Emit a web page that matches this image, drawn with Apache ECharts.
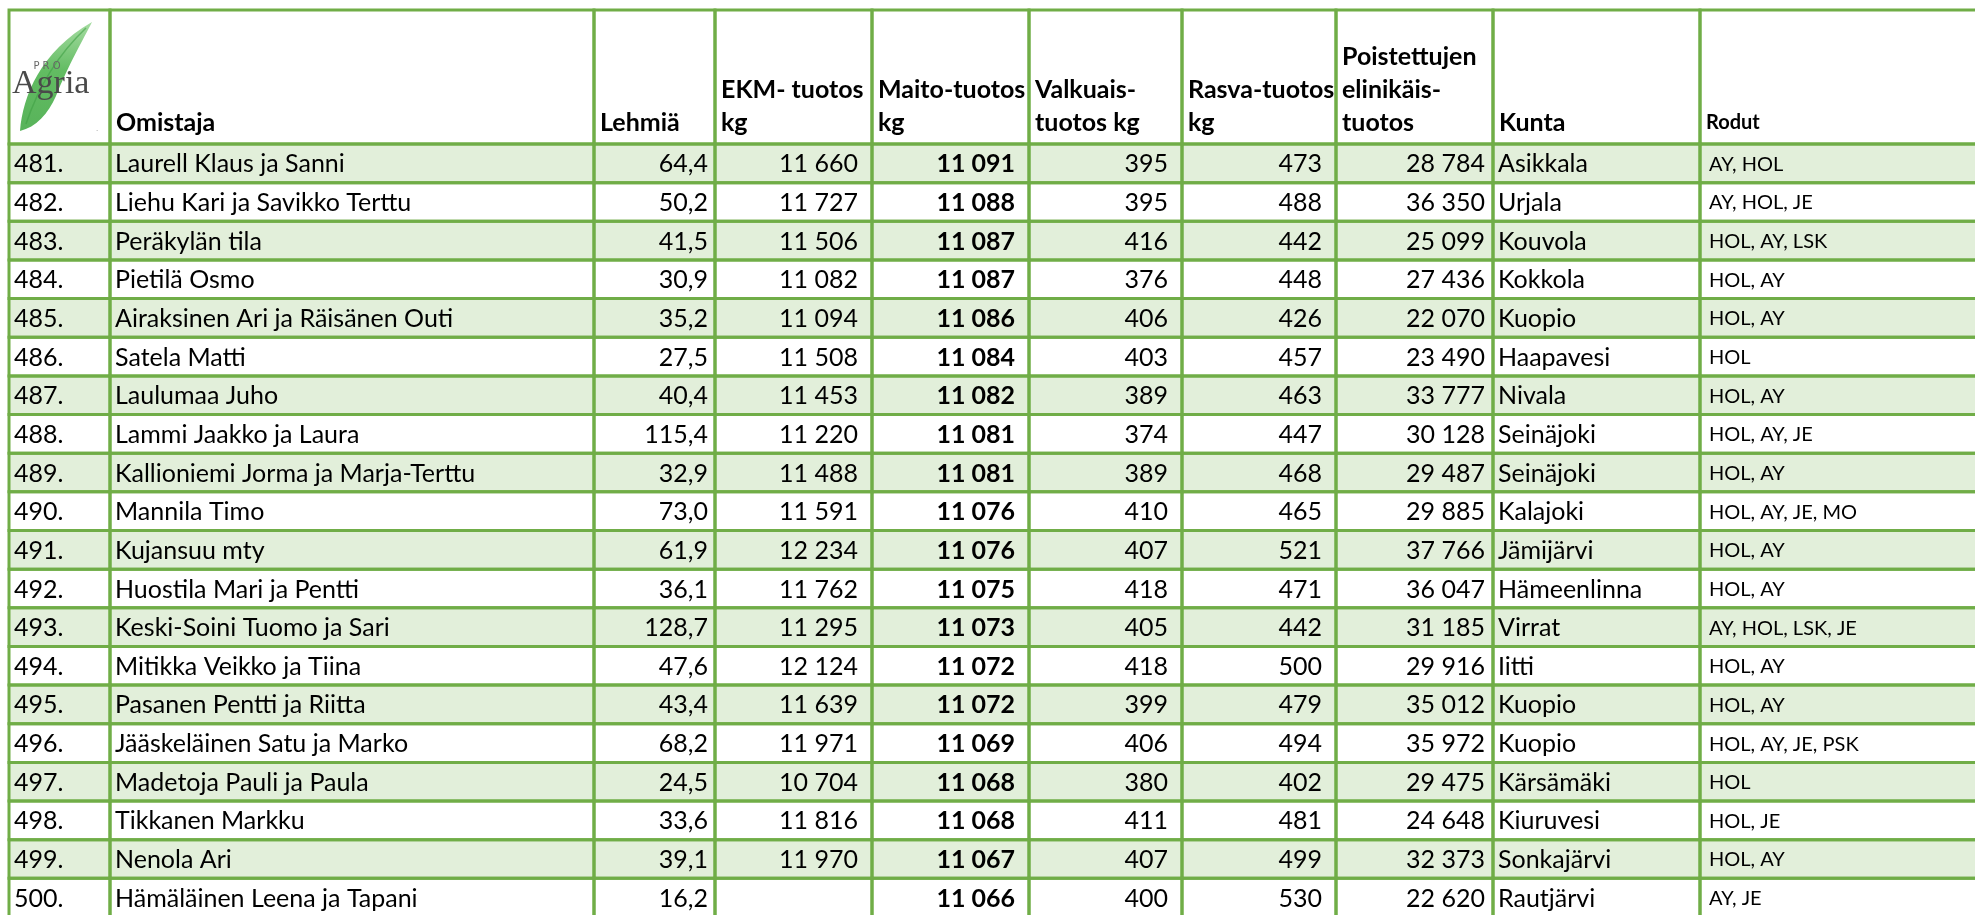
<!DOCTYPE html>
<html><head><meta charset="utf-8">
<script src="https://cdn.jsdelivr.net/npm/echarts@6/dist/echarts.min.js"></script>
<style>html,body{margin:0;padding:0;background:#fff}#c{width:1975px;height:915px}</style>
</head><body><div id="c"></div>
<script>
// ---------- data ----------
const headers = ['', 'Omistaja', 'Lehmiä', 'EKM- tuotos\nkg', 'Maito-tuotos\nkg', 'Valkuais-\ntuotos kg', 'Rasva-tuotos\nkg', 'Poistettujen\nelinikäis-\ntuotos', 'Kunta', 'Rodut'];
const ranks = ['481.', '482.', '483.', '484.', '485.', '486.', '487.', '488.', '489.', '490.', '491.', '492.', '493.', '494.', '495.', '496.', '497.', '498.', '499.', '500.'];
const owners = ['Laurell Klaus ja Sanni', 'Liehu Kari ja Savikko Terttu', 'Peräkylän tila', 'Pietilä Osmo', 'Airaksinen Ari ja Räisänen Outi', 'Satela Matti', 'Laulumaa Juho', 'Lammi Jaakko ja Laura', 'Kallioniemi Jorma ja Marja-Terttu', 'Mannila Timo', 'Kujansuu mty', 'Huostila Mari ja Pentti', 'Keski-Soini Tuomo ja Sari', 'Mitikka Veikko ja Tiina', 'Pasanen Pentti ja Riitta', 'Jääskeläinen Satu ja Marko', 'Madetoja Pauli ja Paula', 'Tikkanen Markku', 'Nenola Ari', 'Hämäläinen Leena ja Tapani'];
const cows = [64.4, 50.2, 41.5, 30.9, 35.2, 27.5, 40.4, 115.4, 32.9, 73.0, 61.9, 36.1, 128.7, 47.6, 43.4, 68.2, 24.5, 33.6, 39.1, 16.2];
const ekm = [11660, 11727, 11506, 11082, 11094, 11508, 11453, 11220, 11488, 11591, 12234, 11762, 11295, 12124, 11639, 11971, 10704, 11816, 11970, null];
const milk = [11091, 11088, 11087, 11087, 11086, 11084, 11082, 11081, 11081, 11076, 11076, 11075, 11073, 11072, 11072, 11069, 11068, 11068, 11067, 11066];
const protein = [395, 395, 416, 376, 406, 403, 389, 374, 389, 410, 407, 418, 405, 418, 399, 406, 380, 411, 407, 400];
const fat = [473, 488, 442, 448, 426, 457, 463, 447, 468, 465, 521, 471, 442, 500, 479, 494, 402, 481, 499, 530];
const lifetime = [28784, 36350, 25099, 27436, 22070, 23490, 33777, 30128, 29487, 29885, 37766, 36047, 31185, 29916, 35012, 35972, 29475, 24648, 32373, 22620];
const kunta = ['Asikkala', 'Urjala', 'Kouvola', 'Kokkola', 'Kuopio', 'Haapavesi', 'Nivala', 'Seinäjoki', 'Seinäjoki', 'Kalajoki', 'Jämijärvi', 'Hämeenlinna', 'Virrat', 'Iitti', 'Kuopio', 'Kuopio', 'Kärsämäki', 'Kiuruvesi', 'Sonkajärvi', 'Rautjärvi'];
const rodut = ['AY, HOL', 'AY, HOL, JE', 'HOL, AY, LSK', 'HOL, AY', 'HOL, AY', 'HOL', 'HOL, AY', 'HOL, AY, JE', 'HOL, AY', 'HOL, AY, JE, MO', 'HOL, AY', 'HOL, AY', 'AY, HOL, LSK, JE', 'HOL, AY', 'HOL, AY', 'HOL, AY, JE, PSK', 'HOL', 'HOL, JE', 'HOL, AY', 'AY, JE'];

// ---------- layout / style ----------
const W = 1975, H = 915;
const colEdges = [9, 110, 594, 715, 872, 1029, 1182, 1336, 1493, 1700, 1995];
const headerTop = 10, headerBottom = 144, rowH = 38.65;
const GREEN = '#70AD47', FILL = '#E2EFDA';
const FONT = 'Lato';

function fmtInt(n) { return n == null ? '' : String(n).replace(/\B(?=(\d{3})+(?!\d))/g, ' '); }
function fmtDec(n) { return n.toFixed(1).replace('.', ','); }

const columns = [
  { values: ranks, align: 'left', pad: 5 },
  { values: owners, align: 'left', pad: 5 },
  { values: cows.map(fmtDec), align: 'right', pad: 7 },
  { values: ekm.map(fmtInt), align: 'right', pad: 14 },
  { values: milk.map(fmtInt), align: 'right', pad: 14, bold: true },
  { values: protein.map(fmtInt), align: 'right', pad: 14 },
  { values: fat.map(fmtInt), align: 'right', pad: 14 },
  { values: lifetime.map(fmtInt), align: 'right', pad: 8 },
  { values: kunta, align: 'left', pad: 5 },
  { values: rodut, align: 'left', pad: 9, size: 20 }
];
const BASE = 25, HEAD = 25;

const cells = [];
for (let c = 0; c < columns.length; c++) {
  cells.push([c, -1]);
  for (let r = 0; r < ranks.length; r++) cells.push([c, r]);
}

function rowTop(r) { return r < 0 ? headerTop : headerBottom + r * rowH; }
function rowBottom(r) { return r < 0 ? headerBottom : headerBottom + (r + 1) * rowH; }

function renderCell(params, api) {
  const c = api.value(0), r = api.value(1);
  const p0 = api.coord([colEdges[c], rowTop(r)]);
  const p1 = api.coord([colEdges[c + 1], rowBottom(r)]);
  const x = p0[0], y = p0[1], w = p1[0] - p0[0], h = p1[1] - p0[1];
  const col = columns[c];
  const children = [
    { type: 'rect', z2: 0, shape: { x, y, width: w, height: h }, style: { fill: (r >= 0 && r % 2 === 0) ? FILL : '#fff' } },
    { type: 'rect', z2: 5, shape: { x, y, width: w, height: h }, style: { fill: 'none', stroke: GREEN, lineWidth: 3 } }
  ];
  if (r < 0) {
    const txt = headers[c];
    if (txt) {
      const size = c === 9 ? 20 : HEAD;
      children.push({ type: 'text', z2: 10, x: x + 6, y: y + h - 5,
        style: { text: txt, fill: '#000', font: `bold ${size}px ${FONT}`, align: 'left', verticalAlign: 'bottom', lineHeight: 33 } });
    }
  } else {
    const txt = col.values[r];
    const size = col.size || BASE;
    const tx = col.align === 'left' ? x + col.pad : x + w - col.pad;
    children.push({ type: 'text', z2: 10, x: tx, y: y + h / 2 + 1,
      style: { text: txt, fill: '#000', font: `${col.bold ? 'bold ' : ''}${size}px ${FONT}`, align: col.align, verticalAlign: 'middle' } });
  }
  return { type: 'group', children };
}

const leafGradient = { type: 'linear', x: 0, y: 0, x2: 0, y2: 1, colorStops: [
  { offset: 0, color: '#A6DCA2' }, { offset: 0.45, color: '#62BC62' }, { offset: 1, color: '#58B35A' }] };

function renderLogo(params, api) {
  const o = api.coord([0, 0]);
  return { type: 'group', x: o[0], y: o[1], children: [
    { type: 'path', z2: 20, shape: { pathData: 'M20,131 C23,96 40,52 92,22 C84,38 68,66 56,96 C48,114 36,127 20,131 Z' },
      style: { fill: leafGradient } },
    { type: 'path', z2: 21, shape: { pathData: 'M26,124 C34,100 50,62 86,28' },
      style: { fill: 'none', stroke: '#3FA045', lineWidth: 1.5, opacity: 0.6 } },
    { type: 'text', z2: 22, x: 47, y: 66, style: { text: 'P R O', fill: '#666', font: '10px "DejaVu Sans"', align: 'center', verticalAlign: 'middle' } },
    { type: 'text', z2: 22, x: 12, y: 84, style: { text: 'Agria', fill: '#4a4a4a', font: '34px "Liberation Serif"', align: 'left', verticalAlign: 'middle' } },
    { type: 'text', z2: 22, x: 97, y: 133, style: { text: '.', fill: '#888', font: '8px sans-serif', align: 'center', verticalAlign: 'bottom' } }
  ] };
}

const chart = echarts.init(document.getElementById('c'), null, { renderer: 'canvas' });
chart.setOption({
  animation: false,
  backgroundColor: '#fff',
  grid: { left: 0, right: 0, top: 0, bottom: 0 },
  xAxis: { type: 'value', min: 0, max: W, show: false },
  yAxis: { type: 'value', min: 0, max: H, inverse: true, show: false },
  series: [{
    type: 'custom', coordinateSystem: 'cartesian2d', renderItem: renderCell,
    data: cells, clip: false, silent: true, z: 2
  }, {
    type: 'custom', coordinateSystem: 'cartesian2d', renderItem: renderLogo,
    data: [[0, 0]], clip: false, silent: true, z: 3
  }]
});
</script>
</body></html>
